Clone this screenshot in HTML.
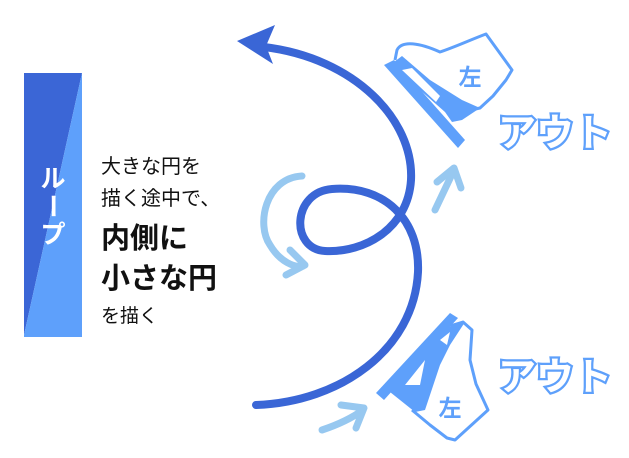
<!DOCTYPE html>
<html><head><meta charset="utf-8"><style>
html,body{margin:0;padding:0;background:#fff;}
body{width:629px;height:458px;overflow:hidden;position:relative;font-family:"Liberation Sans","Noto Sans CJK JP",sans-serif;}
.t{position:absolute;left:101px;color:#111;white-space:nowrap;line-height:1;}
</style></head><body>
<svg width="629" height="458" style="position:absolute;left:0;top:0">
  <polygon points="24,73 82,73 24,335" fill="#3b66d6"/>
  <polygon points="82,73 82,337 24,337 24,335" fill="#5ea0fb"/>
  <text x="53" y="187" fill="#fff" font-size="25" font-weight="bold" text-anchor="middle" font-family="Liberation Sans, Noto Sans CJK JP, sans-serif">ル</text>
  <text x="53" y="215" fill="#fff" font-size="25" font-weight="bold" text-anchor="middle" font-family="Liberation Sans, Noto Sans CJK JP, sans-serif" transform="rotate(90 53 206)">ー</text>
  <text x="53" y="243" fill="#fff" font-size="25" font-weight="bold" text-anchor="middle" font-family="Liberation Sans, Noto Sans CJK JP, sans-serif">プ</text>

  <path d="M264,47 C355,58 414,120 411,180 C408,228 365,253 325,251 C290,249 292,192 332,189 C385,185 420,220 418,272 C414,350 340,402 256,405" fill="none" stroke="#3a66d6" stroke-width="8" stroke-linecap="round"/>
  <polygon points="237,41 275,25 266,46 273,64" fill="#3a66d6"/>

  <g fill="none" stroke="#97c8f0" stroke-width="7" stroke-linecap="round" stroke-linejoin="round">
    <path d="M302,176 C265,178 256,225 270,245 C280,262 295,268 303,266"/>
    <path d="M290,250 L305,265 L286,275"/>
    <path d="M435,210 L454,170"/>
    <path d="M437,182 L454,168 L461,188"/>
    <path d="M322,430 C340,424 352,418 363,410"/>
    <path d="M341,405 L364,408 L356,428"/>
  </g>

  <!-- top skate -->
  <path d="M395,60 L397,50 C402,40 420,43 440,52 C455,47 470,40 486,34 L512,70 L506,80 L493,96 L480,108 L462,112" fill="none" stroke="#5ea0fb" stroke-width="3" stroke-linejoin="round"/>
  <polygon points="384,65 394,60 465,140 458,148" fill="#5ea0fb"/>
  <path d="M394,62 L402,56 L430,80 L462,100 L480,108 L462,120 L452,122 L445,112 L420,90 Z" fill="#5ea0fb"/>
  <path d="M402,70 L412,68 L440,96 L436,102 Z" fill="#fff"/>
  <text x="470" y="85" fill="#5ea0fb" font-size="23" font-weight="bold" text-anchor="middle" font-family="Liberation Sans, Noto Sans CJK JP, sans-serif">左</text>
  <text x="555" y="146" fill="#fff" stroke="#5ea0fb" stroke-width="4.5" font-size="38" font-weight="bold" text-anchor="middle" paint-order="stroke" font-family="Noto Sans CJK JP, sans-serif">アウト</text>

  <!-- bottom skate -->
  <path d="M450,326 L463,322 L472,330 L470,360 L476,384 L488,410 L455,440 L447,438 L430,425 L412,410" fill="none" stroke="#5ea0fb" stroke-width="3" stroke-linejoin="round"/>
  <polygon points="376,393 450,313 458,318 384,400" fill="#5ea0fb"/>
  <path d="M390,392 L440,330 L465,322 L450,345 L440,365 L425,410 L415,412 Z" fill="#5ea0fb"/>
  <path d="M405,385 L425,360 L420,385 Z M440,340 L450,332 L447,345 Z" fill="#fff"/>
  <text x="450" y="416" fill="#5ea0fb" font-size="23" font-weight="bold" text-anchor="middle" font-family="Liberation Sans, Noto Sans CJK JP, sans-serif">左</text>
  <text x="555" y="390" fill="#fff" stroke="#5ea0fb" stroke-width="4.5" font-size="38" font-weight="bold" text-anchor="middle" paint-order="stroke" font-family="Noto Sans CJK JP, sans-serif">アウト</text>
</svg>
<div class="t" style="top:157px;font-size:20px;">大きな円を</div>
<div class="t" style="top:189px;font-size:20px;">描く途中で、</div>
<div class="t" style="top:225px;font-size:29px;font-weight:bold;">内側に</div>
<div class="t" style="top:265px;font-size:29px;font-weight:bold;">小さな円</div>
<div class="t" style="top:307px;font-size:19px;">を描く</div>
</body></html>
